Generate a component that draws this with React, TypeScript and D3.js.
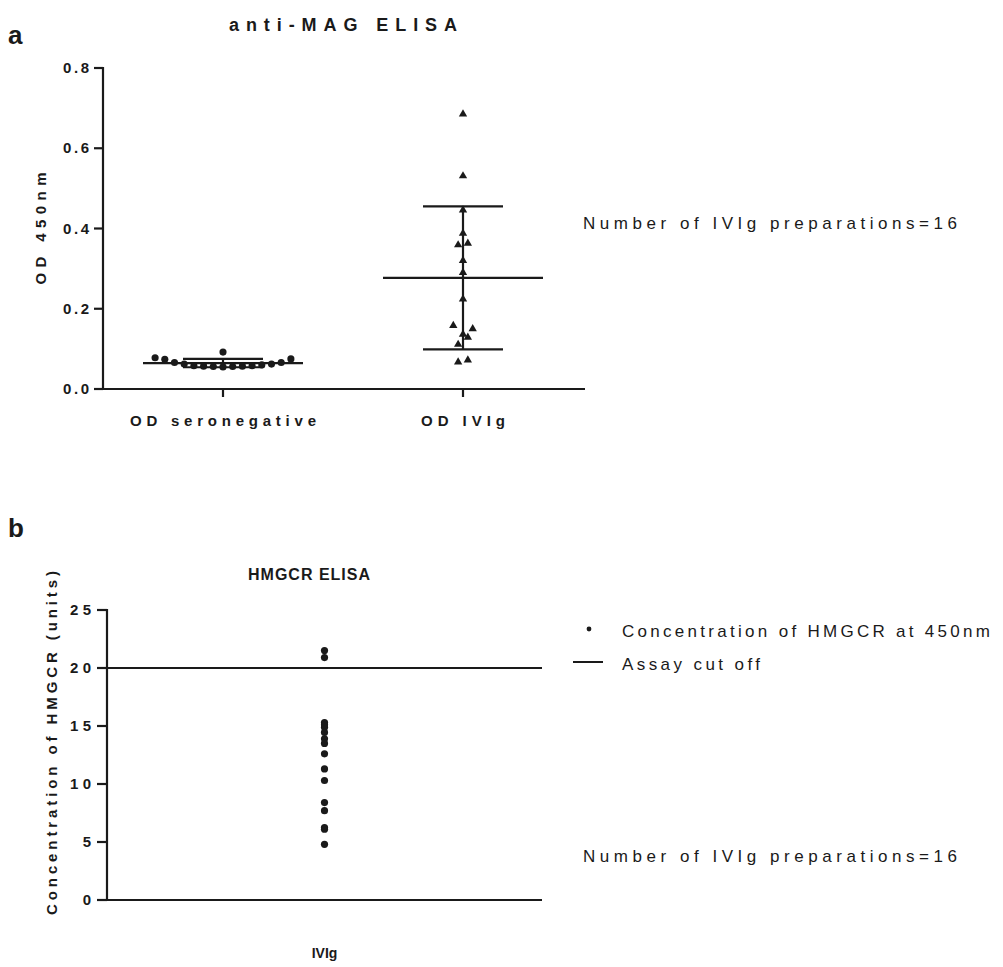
import React, { useEffect, useRef } from "react";
import * as d3 from "d3";

// panel a: anti-MAG ELISA, optical density at 450nm
const groupsA = ["OD seronegative", "OD IVIg"];
const seronegativeOD = [0.078, 0.075, 0.066, 0.062, 0.058, 0.057, 0.056, 0.092, 0.055, 0.056, 0.057, 0.058, 0.06, 0.062, 0.066, 0.074];
const ivigOD = [0.685, 0.531, 0.446, 0.388, 0.359, 0.363, 0.32, 0.29, 0.224, 0.158, 0.15, 0.136, 0.129, 0.111, 0.067, 0.072];
const ticksA = [0, 0.2, 0.4, 0.6, 0.8];

// panel b: HMGCR ELISA, concentration in units
const groupsB = ["IVIg"];
const hmgcrUnits = [21.5, 20.9, 15.3, 15.1, 14.9, 14.45, 13.9, 13.5, 12.6, 11.3, 10.3, 8.4, 7.7, 6.25, 6.1, 4.8];
const ticksB = [0, 5, 10, 15, 20, 25];
const assayCutoff = 20;
const legendB = ["Concentration of HMGCR at 450nm", "Assay cut off"];
const noteText = "Number of IVIg preparations=16";

const FONT = "'Liberation Sans', Arial, Helvetica, sans-serif";
const INK = "#1a1a1a";

// GraphPad-like column scatter: bin points into rows, centre each row
function columnOffsets(values, y, rowPx, step) {
  const order = d3.range(values.length).sort((a, b) => values[a] - values[b]);
  const rows = [];
  let cur = [];
  let start = 0;
  for (const i of order) {
    const py = y(values[i]);
    if (cur.length && Math.abs(start - py) > rowPx) {
      rows.push(cur);
      cur = [];
    }
    if (!cur.length) start = py;
    cur.push(i);
  }
  if (cur.length) rows.push(cur);
  const off = new Array(values.length).fill(0);
  rows.forEach((row) => {
    const n = row.length;
    row.forEach((i, r) => {
      let slot;
      if (n % 2) slot = r === 0 ? 0 : (r % 2 ? 1 : -1) * Math.ceil(r / 2);
      else slot = (r % 2 ? 1 : -1) * (Math.floor(r / 2) + 0.5);
      off[i] = slot * step;
    });
  });
  return off;
}

const App = () => {
  const ref = useRef();

  useEffect(() => {
    const width = 1003;
    const height = 967;
    const svg = d3.select(ref.current);
    svg.selectAll("*").remove();
    svg.attr("width", width).attr("height", height).attr("viewBox", [0, 0, width, height]);

    const txt = (g, x, y, s, size, weight, len, anchor = "start") => {
      const t = g
        .append("text")
        .attr("x", x)
        .attr("y", y)
        .attr("font-family", FONT)
        .attr("font-size", size)
        .attr("font-weight", weight)
        .attr("fill", INK)
        .attr("text-anchor", anchor)
        .text(s);
      if (len) t.attr("textLength", len).attr("lengthAdjust", "spacing");
      return t;
    };

    // ---------- panel a ----------
    const a = svg.append("g");
    const xA = d3.scalePoint(groupsA, [103, 583]).padding(0.5);
    const yA = d3.scaleLinear([0, 0.8], [389, 68]);

    txt(a, 8, 44, "a", 26, "bold");
    txt(a, 343, 31, "anti-MAG ELISA", 18, "bold", 228, "middle");

    // y axis
    a.append("line").attr("x1", 103).attr("x2", 103).attr("y1", yA(0.8) - 1).attr("y2", yA(0)).attr("stroke", INK).attr("stroke-width", 2.2);
    ticksA.forEach((t) => {
      a.append("line").attr("x1", 94).attr("x2", 103).attr("y1", yA(t)).attr("y2", yA(t)).attr("stroke", INK).attr("stroke-width", 2.2);
      txt(a, 89, yA(t) + 5, t.toFixed(1), 15, "bold", 26, "end");
    });
    txt(a, 0, 0, "OD 450nm", 15, "bold", 112, "middle").attr("transform", `translate(46,${(yA(0) + yA(0.8)) / 2}) rotate(-90)`);

    // x axis
    a.append("line").attr("x1", 102).attr("x2", 585).attr("y1", yA(0)).attr("y2", yA(0)).attr("stroke", INK).attr("stroke-width", 2.2);
    groupsA.forEach((g, k) => {
      a.append("line").attr("x1", xA(g)).attr("x2", xA(g)).attr("y1", yA(0)).attr("y2", yA(0) + 8).attr("stroke", INK).attr("stroke-width", 2.2);
      txt(a, xA(g), 426, g, 15, "bold", k === 0 ? 186 : 84, "middle");
    });

    const series = [
      { key: groupsA[0], values: seronegativeOD, shape: d3.symbolCircle, size: 40 },
      { key: groupsA[1], values: ivigOD, shape: d3.symbolTriangle, size: 30 },
    ];
    series.forEach((s) => {
      const cx = xA(s.key);
      const mean = d3.mean(s.values);
      const sd = d3.deviation(s.values);
      const off = columnOffsets(s.values, yA, 9.5, 9.7);
      const ln = (x1, x2, y1, y2) =>
        a.append("line").attr("x1", x1).attr("x2", x2).attr("y1", y1).attr("y2", y2).attr("stroke", INK).attr("stroke-width", 2.2);
      ln(cx - 80, cx + 80, yA(mean), yA(mean));
      ln(cx - 40, cx + 40, yA(mean + sd), yA(mean + sd));
      ln(cx - 40, cx + 40, yA(mean - sd), yA(mean - sd));
      ln(cx, cx, yA(mean + sd), yA(mean - sd));
      a.append("g")
        .selectAll("path")
        .data(s.values)
        .join("path")
        .attr("d", d3.symbol(s.shape, s.size))
        .attr("transform", (d, i) => `translate(${cx + off[i]},${yA(d)})`)
        .attr("fill", INK);
    });

    txt(a, 583, 229, noteText, 17, "normal", 374);

    // ---------- panel b ----------
    const b = svg.append("g");
    const xB = d3.scalePoint(groupsB, [107, 542]).padding(0.5);
    const yB = d3.scaleLinear([0, 25], [900, 610]);

    txt(b, 8, 537, "b", 26, "bold");
    txt(b, 309, 580, "HMGCR ELISA", 16, "bold", 122, "middle");

    b.append("line").attr("x1", 107).attr("x2", 107).attr("y1", yB(25) - 1).attr("y2", yB(0)).attr("stroke", INK).attr("stroke-width", 2.2);
    ticksB.forEach((t) => {
      b.append("line").attr("x1", 97).attr("x2", 107).attr("y1", yB(t)).attr("y2", yB(t)).attr("stroke", INK).attr("stroke-width", 2.2);
      txt(b, 91, yB(t) + 5, String(t), 15, "bold", t >= 10 ? 21 : 0, "end");
    });
    txt(b, 0, 0, "Concentration of HMGCR (units)", 15, "bold", 344, "middle").attr("transform", `translate(57,743) rotate(-90)`);

    b.append("line").attr("x1", 106).attr("x2", 542).attr("y1", yB(0)).attr("y2", yB(0)).attr("stroke", INK).attr("stroke-width", 2.2);
    txt(b, xB(groupsB[0]), 958, groupsB[0], 14, "bold", 0, "middle");

    // cut-off line
    b.append("line").attr("x1", 107).attr("x2", 542).attr("y1", yB(assayCutoff)).attr("y2", yB(assayCutoff)).attr("stroke", INK).attr("stroke-width", 2.2);

    b.append("g")
      .selectAll("circle")
      .data(hmgcrUnits)
      .join("circle")
      .attr("cx", xB(groupsB[0]))
      .attr("cy", (d) => yB(d))
      .attr("r", 3.6)
      .attr("fill", INK);

    // legend
    b.append("circle").attr("cx", 589).attr("cy", 629).attr("r", 2.4).attr("fill", INK);
    txt(b, 622, 637, legendB[0], 17, "normal", 368);
    b.append("line").attr("x1", 573).attr("x2", 603).attr("y1", 662).attr("y2", 662).attr("stroke", INK).attr("stroke-width", 2);
    txt(b, 622, 670, legendB[1], 17, "normal", 138);

    txt(b, 583, 862, noteText, 17, "normal", 374);
  }, []);

  return <svg ref={ref} style={{ position: "absolute", left: 0, top: 0, background: "#fff" }}></svg>;
};

export default App;
